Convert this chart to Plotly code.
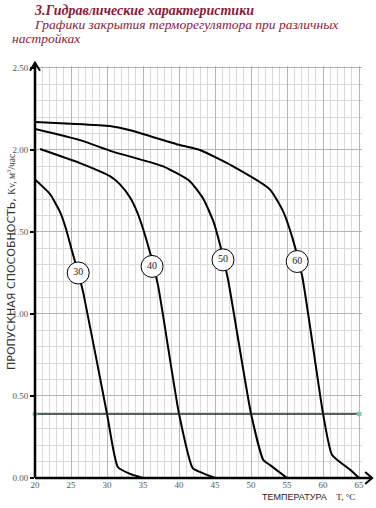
import plotly.graph_objects as go

# ---- data ----
t30 = [20, 22.1, 23.5, 24.3, 25.1, 26.0, 26.7, 30.0, 31.5, 33.2, 35.0]
kv30 = [1.82, 1.73, 1.62, 1.52, 1.39, 1.25, 1.13, 0.39, 0.067, 0.025, 0.0]

t40 = [20.7, 26.25, 30.4, 31.8, 33.2, 34.2, 35.0, 36.0, 37.1, 40.0, 41.9, 43.3, 45.0]
kv40 = [2.006, 1.92, 1.84, 1.79, 1.71, 1.62, 1.52, 1.37, 1.17, 0.39, 0.06, 0.03, 0.0]

t50 = [20, 26.25, 30.8, 37.8, 41.5, 43.4, 44.8, 45.7, 46.8, 50.0, 51.7, 52.6, 55.0]
kv50 = [2.128, 2.06, 1.99, 1.90, 1.81, 1.70, 1.56, 1.42, 1.21, 0.39, 0.11, 0.08, 0.0]

t60 = [20, 25, 30.4, 33.2, 40.1, 42.9, 47.5, 52.6, 54.4, 55.7, 57.1, 60.0, 61.25, 63.75, 65.0]
kv60 = [2.17, 2.16, 2.146, 2.12, 2.03, 2.0, 1.90, 1.76, 1.63, 1.47, 1.23, 0.39, 0.14, 0.05, 0.0]

settings = ["30", "40", "50", "60"]
label_t = [26.0, 36.25, 46.1, 56.4]
label_kv = [1.25, 1.29, 1.33, 1.32]

ref_t = [20, 65]
ref_kv = [0.39, 0.39]

x_ticks = [20, 25, 30, 35, 40, 45, 50, 55, 60, 65]
y_ticks = [0.0, 0.5, 1.0, 1.5, 2.0, 2.5]

TITLE_COLOR = "#8a1a36"
SERIF = "'Liberation Serif', 'DejaVu Serif', 'Times New Roman', serif"
SANS = "'Liberation Sans', Arial, sans-serif"
WIDE_SANS = "'DejaVu Sans', 'Liberation Sans', sans-serif"

fig = go.Figure()

for t, kv in [(t30, kv30), (t40, kv40), (t50, kv50), (t60, kv60)]:
    fig.add_trace(go.Scatter(x=t, y=kv, mode="lines",
                             line=dict(color="black", width=2, shape="spline", smoothing=0.5),
                             hoverinfo="skip", showlegend=False, cliponaxis=False))

fig.add_trace(go.Scatter(x=ref_t, y=ref_kv, mode="lines+markers",
                         line=dict(color="#1e2b28", width=1.6),
                         marker=dict(color="#7fc4ae", size=5),
                         showlegend=False, cliponaxis=False))

fig.add_trace(go.Scatter(x=label_t, y=label_kv, mode="markers+text", text=settings,
                         textposition="middle center",
                         textfont=dict(family=SERIF, size=10, color="#222"),
                         marker=dict(size=22, color="white", line=dict(color="black", width=1)),
                         showlegend=False, cliponaxis=False))

fig.update_layout(
    width=376, height=508,
    margin=dict(l=35, r=14, t=66, b=30, autoexpand=False),
    paper_bgcolor="white", plot_bgcolor="white",
    xaxis=dict(range=[20, 65.4], tickvals=x_ticks, ticktext=[str(v) for v in x_ticks],
               automargin=False,
               showgrid=True, gridcolor="#b4b4b4", gridwidth=1,
               minor=dict(dtick=1, tick0=20, showgrid=True, gridcolor="#d9d9d9", gridwidth=1),
               zeroline=False, showline=False, ticks="",
               tickfont=dict(family=SERIF, size=9, color="#555")),
    yaxis=dict(range=[0, 2.512], tickvals=y_ticks, ticktext=["%.2f" % v for v in y_ticks],
               automargin=False,
               showgrid=True, gridcolor="#b4b4b4", gridwidth=1,
               minor=dict(dtick=0.1, tick0=0, showgrid=True, gridcolor="#d9d9d9", gridwidth=1),
               zeroline=False, showline=False, ticks="outside", ticklen=4, tickcolor="black",
               tickwidth=1.5,
               tickfont=dict(family=SERIF, size=9, color="#555")),
    shapes=[
        dict(type="line", xref="paper", yref="paper", x0=0, x1=1.031, y0=0, y1=0,
             line=dict(color="black", width=2.5), layer="above"),
        dict(type="line", xref="paper", yref="paper", x0=0, x1=0, y0=0, y1=1.008,
             line=dict(color="black", width=2.5), layer="above"),
        dict(type="path", xref="paper", yref="paper", xsizemode="pixel", ysizemode="pixel",
             xanchor=1.031, yanchor=0, path="M -7,6 L 0,0 L -7,-6",
             line=dict(color="black", width=2), layer="above"),
        dict(type="path", xref="paper", yref="paper", xsizemode="pixel", ysizemode="pixel",
             xanchor=0, yanchor=1.008, path="M -5,-8 L 0,0 L 5,-8",
             line=dict(color="black", width=2), layer="above"),
    ],
    annotations=[
        dict(text="<b><i>3.Гидравлические характеристики</i></b>", xref="paper", yref="paper",
             x=(32 - 35) / 327, y=1 + (66 - 10) / 412, xanchor="left", yanchor="middle",
             showarrow=False, font=dict(family=SERIF, size=14, color=TITLE_COLOR)),
        dict(text="<i>Графики закрытия терморегулятора при различных</i>", xref="paper", yref="paper",
             x=(32 - 35) / 327, y=1 + (66 - 25) / 412, xanchor="left", yanchor="middle",
             showarrow=False, font=dict(family=SERIF, size=13.5, color=TITLE_COLOR)),
        dict(text="<i>настройках</i>", xref="paper", yref="paper",
             x=(10 - 35) / 327, y=1 + (66 - 39) / 412, xanchor="left", yanchor="middle",
             showarrow=False, font=dict(family=SERIF, size=13.5, color=TITLE_COLOR)),
        dict(text="ПРОПУСКНАЯ СПОСОБНОСТЬ, <span style=\"font-family:'Liberation Serif';font-size:9.5px\">Kv, м<sup>3</sup>/час</span>",
             xref="paper", yref="paper", x=(11 - 35) / 327, y=(478 - 262) / 412,
             xanchor="center", yanchor="middle", textangle=-90, showarrow=False,
             font=dict(family=WIDE_SANS, size=11, color="#333")),
        dict(text="ТЕМПЕРАТУРА  <span style=\"font-family:'Liberation Serif'\">  T, °C</span>",
             xref="paper", yref="paper", x=(357 - 35) / 327, y=-(497 - 478) / 412,
             xanchor="right", yanchor="middle", showarrow=False,
             font=dict(family=SANS, size=9, color="#222")),
    ],
)

fig.write_html("out.html", config={"displayModeBar": False},
               post_script="document.body.style.margin='0';document.body.style.padding='0';")
